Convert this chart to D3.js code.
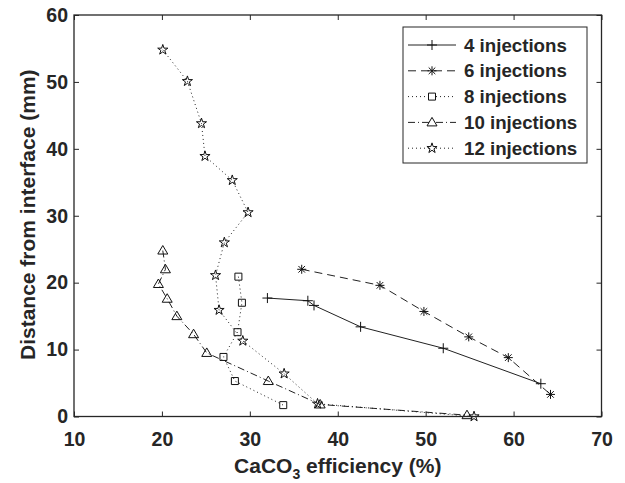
<!DOCTYPE html>
<html>
<head>
<meta charset="utf-8">
<script src="https://cdn.jsdelivr.net/npm/d3@7"></script>
<style>
  body { margin: 0; background: #fff; }
  svg text { font-family: "Liberation Sans", Arial, sans-serif; font-weight: bold; fill: #262626; }
</style>
</head>
<body>
<div id="graph"></div>
<script>
// series: x = CaCO3 efficiency (%), y = distance (mm)
var inj4_x = [32.0, 36.6, 37.3, 42.6, 52.0, 63.1];
var inj4_y = [17.7, 17.3, 16.6, 13.4, 10.2, 4.9];

var inj6_x = [35.9, 44.8, 49.8, 54.9, 59.4, 64.2];
var inj6_y = [22.0, 19.6, 15.7, 11.9, 8.8, 3.3];

var inj8_x = [28.7, 29.1, 28.6, 27.0, 28.3, 33.8];
var inj8_y = [20.9, 17.0, 12.6, 8.9, 5.3, 1.7];

var inj10_x = [20.1, 20.4, 19.6, 20.6, 21.7, 23.6, 25.1, 32.1, 38.0, 54.7];
var inj10_y = [24.8, 22.0, 19.8, 17.6, 15.0, 12.3, 9.5, 5.3, 1.8, 0.2];

var inj12_x = [20.1, 22.9, 24.5, 24.9, 28.0, 29.8, 27.1, 26.1, 26.5, 29.2, 33.9, 37.7, 55.5];
var inj12_y = [54.8, 50.1, 43.8, 38.9, 35.3, 30.5, 26.0, 21.1, 15.9, 11.3, 6.4, 1.9, 0.0];

var seriesNames = ['4 injections', '6 injections', '8 injections', '10 injections', '12 injections'];
var xTicks = [10, 20, 30, 40, 50, 60, 70];
var yTicks = [0, 10, 20, 30, 40, 50, 60];

var W = 625, H = 483;
var margin = {left: 74, top: 15, right: 23.5, bottom: 66.5};

var svg = d3.select('#graph').append('svg')
    .attr('width', W).attr('height', H);

var x = d3.scaleLinear().domain([10, 70]).range([margin.left, W - margin.right]);
var y = d3.scaleLinear().domain([0, 60]).range([H - margin.bottom, margin.top]);

// marker shapes
var markers = {
    plus: 'M-5,0H5M0,-5V5',
    asterisk: 'M-4.5,0H4.5M0,-4.5V4.5M-3.3,-3.3L3.3,3.3M-3.3,3.3L3.3,-3.3',
    square: 'M-3.5,-3.5H3.5V3.5H-3.5Z',
    triangle: 'M0,-5L5,3.5H-5Z',
    star: d3.symbol().type(d3.symbolStar).size(32)()
};

var series = [
    {name: seriesNames[0], xs: inj4_x, ys: inj4_y, dash: null, mk: 'plus'},
    {name: seriesNames[1], xs: inj6_x, ys: inj6_y, dash: '8,5', mk: 'asterisk'},
    {name: seriesNames[2], xs: inj8_x, ys: inj8_y, dash: '1,3', mk: 'square'},
    {name: seriesNames[3], xs: inj10_x, ys: inj10_y, dash: '7,3,1,3', mk: 'triangle'},
    {name: seriesNames[4], xs: inj12_x, ys: inj12_y, dash: '1,3', mk: 'star'}
];

var line = d3.line().x(function (d) { return x(d[0]); }).y(function (d) { return y(d[1]); });

var plot = svg.append('g');

series.forEach(function (s) {
    var pts = s.xs.map(function (v, i) { return [v, s.ys[i]]; });
    plot.append('path')
        .attr('d', line(pts))
        .attr('fill', 'none')
        .attr('stroke', '#222')
        .attr('stroke-width', 1)
        .attr('stroke-dasharray', s.dash);
    plot.selectAll(null).data(pts).enter().append('path')
        .attr('d', markers[s.mk])
        .attr('transform', function (d) { return 'translate(' + x(d[0]) + ',' + y(d[1]) + ')'; })
        .attr('fill', 'none')
        .attr('stroke', '#111')
        .attr('stroke-width', 1);
});

// axes box with inward ticks on all sides
var x0 = x(10), x1 = x(70), y0 = y(0), y1 = y(60);
var axisColor = '#262626';

svg.append('rect')
    .attr('x', x0).attr('y', y1)
    .attr('width', x1 - x0).attr('height', y0 - y1)
    .attr('fill', 'none').attr('stroke', axisColor).attr('stroke-width', 1.3);

var xb = svg.append('g').attr('transform', 'translate(0,' + y0 + ')')
    .call(d3.axisBottom(x).tickValues(xTicks).tickSizeInner(-5).tickSizeOuter(0).tickPadding(16));
var xt = svg.append('g').attr('transform', 'translate(0,' + y1 + ')')
    .call(d3.axisTop(x).tickValues(xTicks).tickSizeInner(-5).tickSizeOuter(0).tickFormat(''));
var yl = svg.append('g').attr('transform', 'translate(' + x0 + ',0)')
    .call(d3.axisLeft(y).tickValues(yTicks).tickSizeInner(-5).tickSizeOuter(0).tickPadding(6));
var yr = svg.append('g').attr('transform', 'translate(' + x1 + ',0)')
    .call(d3.axisRight(y).tickValues(yTicks).tickSizeInner(-5).tickSizeOuter(0).tickFormat(''));

[xb, xt, yl, yr].forEach(function (g) {
    g.select('.domain').remove();
    g.selectAll('line').attr('stroke', axisColor);
    g.selectAll('text').attr('font-size', 19.5).attr('fill', axisColor)
        .style('font-family', '"Liberation Sans", Arial, sans-serif').style('font-weight', 'bold');
});

// axis labels
var xl = svg.append('text')
    .attr('x', (x0 + x1) / 2).attr('y', 473)
    .attr('text-anchor', 'middle').attr('font-size', 21);
xl.append('tspan').text('CaCO');
xl.append('tspan').text('3').attr('font-size', 14).attr('dy', 6);
xl.append('tspan').text(' efficiency (%)').attr('dy', -6);

svg.append('text')
    .attr('transform', 'translate(35,' + ((y0 + y1) / 2 - 1) + ') rotate(-90)')
    .attr('text-anchor', 'middle').attr('font-size', 21)
    .text('Distance from interface (mm)');

// legend
var lg = svg.append('g').attr('transform', 'translate(403,27)');
lg.append('rect').attr('width', 184).attr('height', 136)
    .attr('fill', '#fff').attr('stroke', axisColor).attr('stroke-width', 1);

series.forEach(function (s, i) {
    var cy = 18 + i * 25.8;
    lg.append('line')
        .attr('x1', 5).attr('x2', 53).attr('y1', cy).attr('y2', cy)
        .attr('stroke', '#222').attr('stroke-width', 1)
        .attr('stroke-dasharray', s.dash);
    lg.append('path').attr('d', markers[s.mk])
        .attr('transform', 'translate(29,' + cy + ')')
        .attr('fill', '#fff').attr('stroke', '#111').attr('stroke-width', 1);
    lg.append('text').attr('x', 61).attr('y', cy + 6.5)
        .attr('font-size', 18.7).text(s.name);
});
</script>
</body>
</html>
